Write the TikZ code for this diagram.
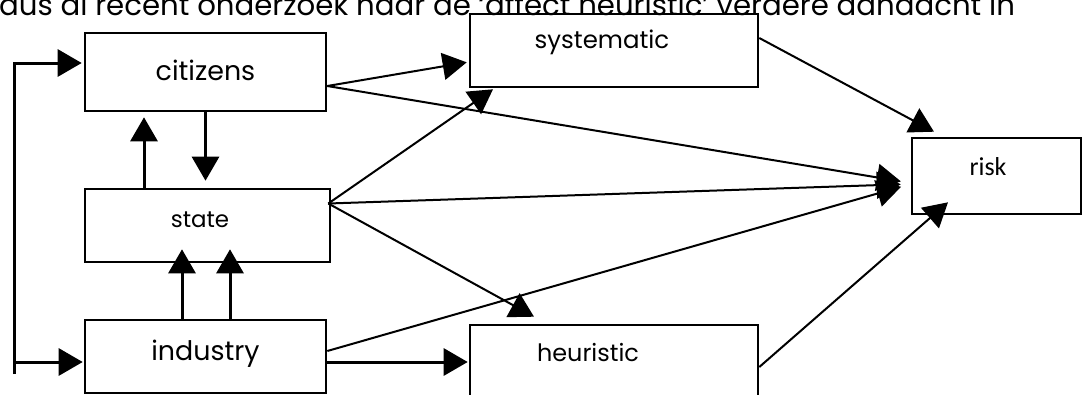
\documentclass[tikz,border=0pt]{standalone}
\usepackage{fontspec}
\usepackage{tikz}
\usetikzlibrary{arrows.meta,positioning,calc}
\newfontfamily\gothic{Poppins}
\newfontfamily\riskfont{Carlito}

\tikzset{
  box/.style={draw, line width=2.6bp, inner sep=0pt},
  boxtext/.style={font=\gothic\fontsize{#1}{#1}\selectfont, inner sep=0pt},
  boxtext/.default=27,
  arr/.style={-{Triangle[length=24bp,width=27bp]}},
  thin/.style={line width=2bp},
  fat/.style={line width=3bp}
}

\begin{document}
\begin{tikzpicture}[x=1bp,y=-1bp,line join=miter]
  \useasboundingbox (0,0) rectangle (1084,394);
  \clip (0,0) rectangle (1084,394);
  % Text line above the figure
  \node[boxtext=29.3, anchor=base west] (intro) at (-1,15)
    {dus al recent onderzoek naar de ‘affect heuristic’ verdere aandacht in};
  % Node: citizens
  \node[box, minimum width=241bp, minimum height=78bp,
    label={[boxtext,yshift=2bp]center:citizens}] (citizens) at (205.5,72) {};
  % Node: state
  \node[box, minimum width=245bp, minimum height=73bp,
    label={[boxtext=23,xshift=-7.5bp,yshift=5.5bp]center:state}] (state) at (207.5,225.5) {};
  % Node: industry
  \node[box, minimum width=241bp, minimum height=73bp,
    label={[boxtext,yshift=3bp]center:industry}] (industry) at (205.5,356.5) {};
  % Node: systematic
  \node[box, minimum width=288bp, minimum height=73bp,
    label={[boxtext=24.5,xshift=-12bp,yshift=8bp]center:systematic}] (systematic) at (614,50.5) {};
  % Node: heuristic
  \node[box, minimum width=288bp, minimum height=73bp,
    label={[boxtext=24,xshift=-26bp,yshift=8.5bp]center:heuristic}] (heuristic) at (614,361.5) {};
  % Node: risk
  \node[box, minimum width=169bp, minimum height=76bp,
    label={[font=\riskfont\fontsize{26}{26}\selectfont,inner sep=0pt,xshift=-8.5bp,yshift=9bp]center:risk}] (risk) at (996.5,176) {};
  %%
  \coordinate (loopbot) at (14,374);
  \coordinate (stateout) at ([xshift=-3bp,yshift=22bp]state.east);
  % Edge: loop -> citizens
  \draw[fat, arr, shorten >=2bp] (loopbot) |- ([yshift=9bp]citizens.west);
  % Edge: loop -> industry
  \draw[fat, arr, shorten >=1bp] ([yshift=-5.5bp]industry.west -| loopbot) -- ([yshift=-5.5bp]industry.west);
  % Edge: state -> citizens
  \draw[fat, arr, shorten >=5bp] ([xshift=-63.5bp]state.north) -- ([xshift=-63.5bp]state.north |- citizens.south);
  % Edge: citizens -> state
  \draw[fat, arr, shorten >=7bp] (citizens.south) -- (citizens.south |- state.north);
  % Edge: industry -> state
  \draw[fat, arr, shorten >=-14bp] ([xshift=-23.5bp]industry.north) -- ([xshift=-23.5bp]industry.north |- state.south);
  \draw[fat, arr, shorten >=-14bp] ([xshift=24.5bp]industry.north) -- ([xshift=24.5bp]industry.north |- state.south);
  % Edge: citizens -> systematic
  \draw[thin, arr, shorten >=2bp] ([yshift=-14bp]citizens.east) -- ([yshift=-11.5bp]systematic.west);
  % Edge: citizens -> risk
  \draw[thin, arr, shorten >=10bp] ([yshift=-14bp]citizens.east) -- ([yshift=-7bp]risk.west);
  % Edge: state -> systematic
  \draw[thin, arr] (stateout) -- ([xshift=-121bp,yshift=-1bp]systematic.south);
  % Edge: state -> risk
  \draw[thin, arr, shorten >=10bp] (stateout) -- ([yshift=-8bp]risk.west);
  % Edge: state -> heuristic
  \draw[thin, arr] (stateout) -- ([xshift=-80bp,yshift=7bp]heuristic.north);
  % Edge: industry -> risk
  \draw[thin, arr, shorten >=10bp] ([yshift=5.5bp]industry.east) -- ([yshift=-8bp]risk.west);
  % Edge: industry -> heuristic
  \draw[fat, arr, shorten >=1bp] ([yshift=-5.5bp]industry.east) -- ([yshift=-5.5bp]industry.east -| heuristic.west);
  % Edge: systematic -> risk
  \draw[thin, arr] ([yshift=12.5bp]systematic.east) -- ([xshift=-62.5bp,yshift=5bp]risk.north);
  % Edge: heuristic -> risk
  \draw[thin, arr] ([yshift=-5.5bp]heuristic.east) -- ([xshift=-48.5bp,yshift=13bp]risk.south);
\end{tikzpicture}
\end{document}
